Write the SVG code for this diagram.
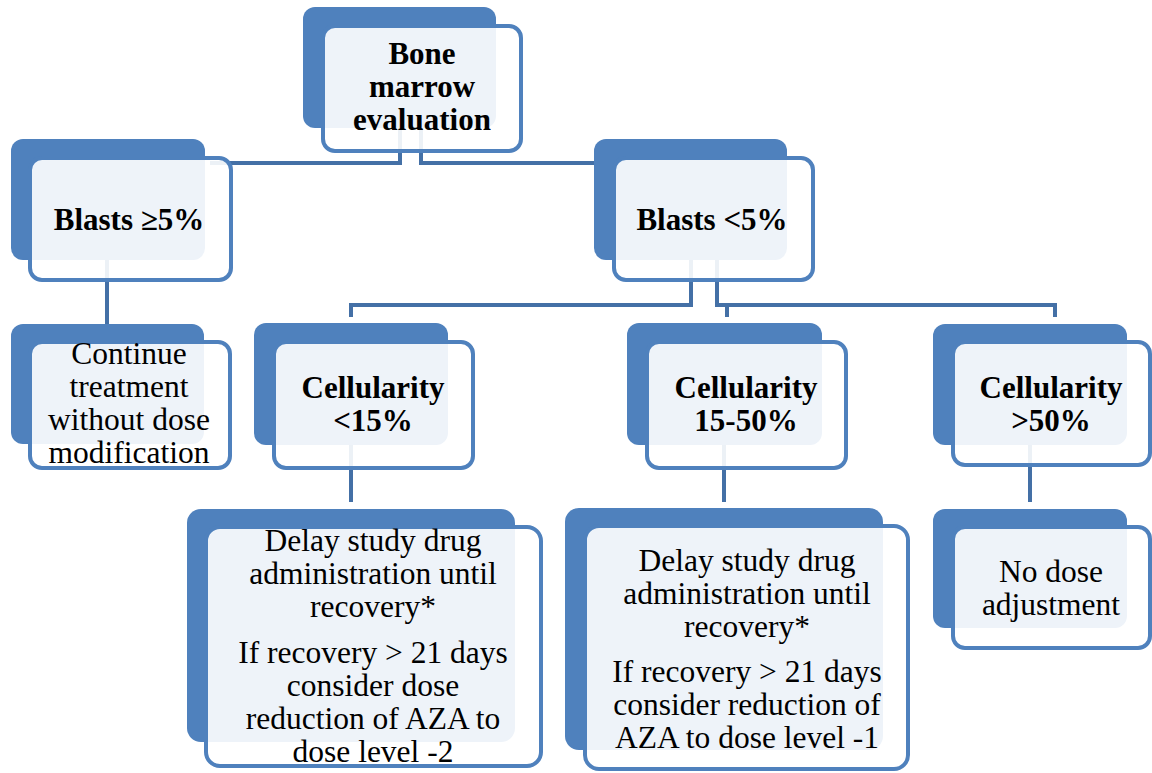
<svg xmlns="http://www.w3.org/2000/svg" width="1152" height="773" viewBox="0 0 1152 773">
<style>
.bk{fill:#4F81BD}
.fr{fill:#FFFFFF;fill-opacity:0.9;stroke:#4F81BD;stroke-width:4}
.cn{fill:none;stroke:#4470A6;stroke-width:4}
.b{font-family:'Liberation Serif','Times New Roman',Tinos,'DejaVu Serif',serif;font-weight:bold;font-size:31px;fill:#000;text-anchor:middle}
.r{font-family:'Liberation Serif','Times New Roman',Tinos,'DejaVu Serif',serif;font-size:31.5px;fill:#000;text-anchor:middle}
</style>
<rect width="1152" height="773" fill="#FFFFFF"/>
<g id="connectors">
<path class="cn" d="M400,128 V163 H210"/>
<path class="cn" d="M421,128 V163 H600"/>
<path class="cn" d="M107,260 V324"/>
<path class="cn" d="M691,260 V305 H351 V317"/>
<path class="cn" d="M717,260 V305 H1055 V317"/>
<path class="cn" d="M727,305 V317"/>
<path class="cn" d="M351,445 V502"/>
<path class="cn" d="M724,445 V502"/>
<path class="cn" d="M1030,445 V502"/>
</g>
<g id="bone">
<rect class="bk" x="303" y="7" width="193" height="121" rx="12"/>
<rect class="fr" x="323" y="26" width="198" height="125" rx="12"/>
<text class="b" x="422" y="64">Bone</text>
<text class="b" x="422" y="97">marrow</text>
<text class="b" x="422" y="130">evaluation</text>
</g>
<g id="blasts_ge5">
<rect class="bk" x="11" y="139" width="194" height="121" rx="12"/>
<rect class="fr" x="30" y="158" width="201" height="122" rx="12"/>
<text class="b" x="129" y="230">Blasts ≥5%</text>
</g>
<g id="blasts_lt5">
<rect class="bk" x="594" y="139" width="193" height="121" rx="12"/>
<rect class="fr" x="614" y="158" width="199" height="122" rx="12"/>
<text class="b" x="712" y="230">Blasts &lt;5%</text>
</g>
<g id="continue">
<rect class="bk" x="11" y="324" width="193" height="120" rx="12"/>
<rect class="fr" x="30" y="342" width="200" height="126" rx="12"/>
<text class="r" x="129" y="364">Continue</text>
<text class="r" x="129" y="397">treatment</text>
<text class="r" x="129" y="430">without dose</text>
<text class="r" x="129" y="463">modification</text>
</g>
<g id="cell_lt15">
<rect class="bk" x="254" y="323" width="194" height="122" rx="12"/>
<rect class="fr" x="274" y="342" width="199" height="126" rx="12"/>
<text class="b" x="373" y="398">Cellularity</text>
<text class="b" x="373" y="431">&lt;15%</text>
</g>
<g id="cell_15_50">
<rect class="bk" x="627" y="323" width="195" height="122" rx="12"/>
<rect class="fr" x="647" y="342" width="199" height="126" rx="12"/>
<text class="b" x="746" y="398">Cellularity</text>
<text class="b" x="746" y="431">15-50%</text>
</g>
<g id="cell_gt50">
<rect class="bk" x="933" y="324" width="194" height="121" rx="12"/>
<rect class="fr" x="953" y="342" width="197" height="123" rx="12"/>
<text class="b" x="1051" y="398">Cellularity</text>
<text class="b" x="1051" y="431">&gt;50%</text>
</g>
<g id="delay1">
<rect class="bk" x="187" y="509" width="328" height="233" rx="14"/>
<rect class="fr" x="206" y="527" width="335" height="239" rx="14"/>
<text class="r" x="373" y="551">Delay study drug</text>
<text class="r" x="373" y="584">administration until</text>
<text class="r" x="373" y="617">recovery*</text>
<text class="r" x="373" y="663">If recovery &gt; 21 days</text>
<text class="r" x="373" y="696">consider dose</text>
<text class="r" x="373" y="729">reduction of AZA to</text>
<text class="r" x="373" y="762">dose level -2</text>
</g>
<g id="delay2">
<rect class="bk" x="565" y="508" width="318" height="242" rx="14"/>
<rect class="fr" x="585" y="526" width="323" height="243" rx="14"/>
<text class="r" x="747" y="571">Delay study drug</text>
<text class="r" x="747" y="604">administration until</text>
<text class="r" x="747" y="637">recovery*</text>
<text class="r" x="747" y="682">If recovery &gt; 21 days</text>
<text class="r" x="747" y="715">consider reduction of</text>
<text class="r" x="747" y="748">AZA to dose level -1</text>
</g>
<g id="nodose">
<rect class="bk" x="933" y="509" width="194" height="119" rx="12"/>
<rect class="fr" x="953" y="527" width="197" height="121" rx="12"/>
<text class="r" x="1051" y="582">No dose</text>
<text class="r" x="1051" y="615">adjustment</text>
</g>
</svg>
